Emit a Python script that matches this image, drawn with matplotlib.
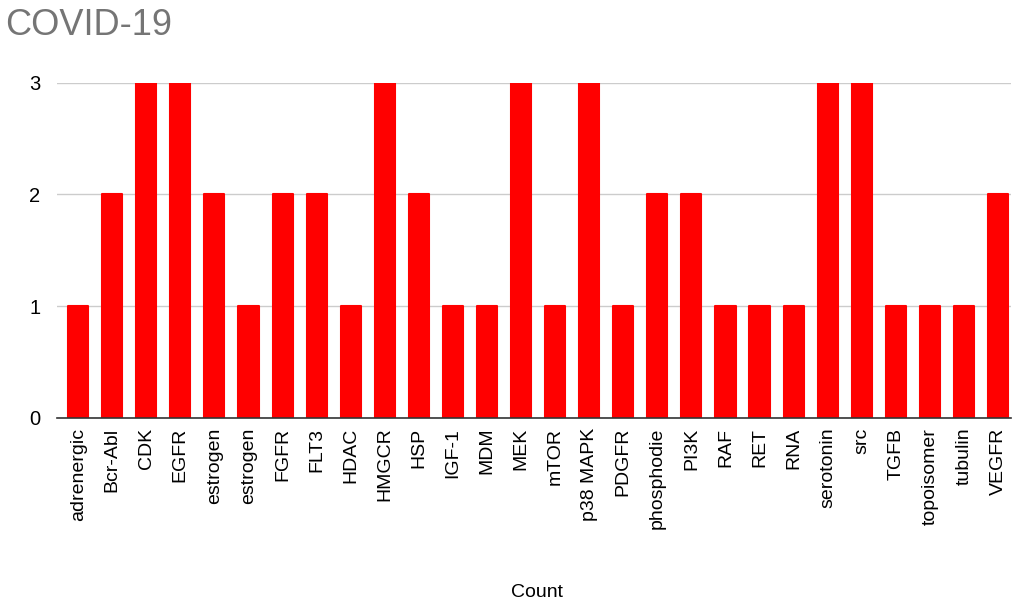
import matplotlib.pyplot as plt
import numpy as np

plt.rcParams['font.family'] = ['Liberation Sans', 'DejaVu Sans']

# Target classes and how many COVID-19 compounds hit each one
targets = ["adrenergic", "Bcr-Abl", "CDK", "EGFR", "estrogen", "estrogen", "FGFR",
           "FLT3", "HDAC", "HMGCR", "HSP", "IGF-1", "MDM", "MEK", "mTOR",
           "p38 MAPK", "PDGFR", "phosphodie", "PI3K", "RAF", "RET", "RNA",
           "serotonin", "src", "TGFB", "topoisomer", "tubulin", "VEGFR"]
counts = [1, 2, 3, 3, 2, 1, 2, 2, 1, 3, 2, 1, 1, 3, 1, 3, 1, 2, 2, 1, 1, 1,
          3, 3, 1, 1, 1, 2]
yticks = [0, 1, 2, 3]

fig = plt.figure(figsize=(10.13, 6.04), dpi=100)
ax = fig.add_axes([0.0563, 0.308, 0.9417, 0.555])

x = np.arange(len(targets))
# thin same-colour edge with round joins softens the bar corners
ax.bar(x, counts, width=0.59, color="#ff0000", edgecolor="#ff0000",
       linewidth=1.5, joinstyle="round", zorder=3)

ax.set_xlim(-0.62, len(targets) - 0.62)
ax.set_ylim(0, 3)
ax.set_yticks(yticks)
ax.set_yticklabels([str(v) for v in yticks], fontsize=14.5)
ax.set_xticks(x)
ax.set_xticklabels(targets, rotation=90, fontsize=14, va="top")
ax.tick_params(axis="both", length=0, pad=7)
ax.tick_params(axis="y", pad=12)

ax.grid(axis="y", color="#cccccc", linewidth=1, zorder=0)
ax.set_axisbelow(True)
for side in ["top", "right", "left"]:
    ax.spines[side].set_visible(False)
ax.spines["bottom"].set_color("#333333")
ax.spines["bottom"].set_linewidth(1.2)
ax.spines["bottom"].set_zorder(4)

fig.text(0.005, 0.958, "COVID-19", fontsize=26, color="#757575", va="center", ha="left")
fig.text(0.53, 0.019, "Count", fontsize=14, color="#000000", ha="center", va="center")

plt.savefig("out.png", dpi=100)
